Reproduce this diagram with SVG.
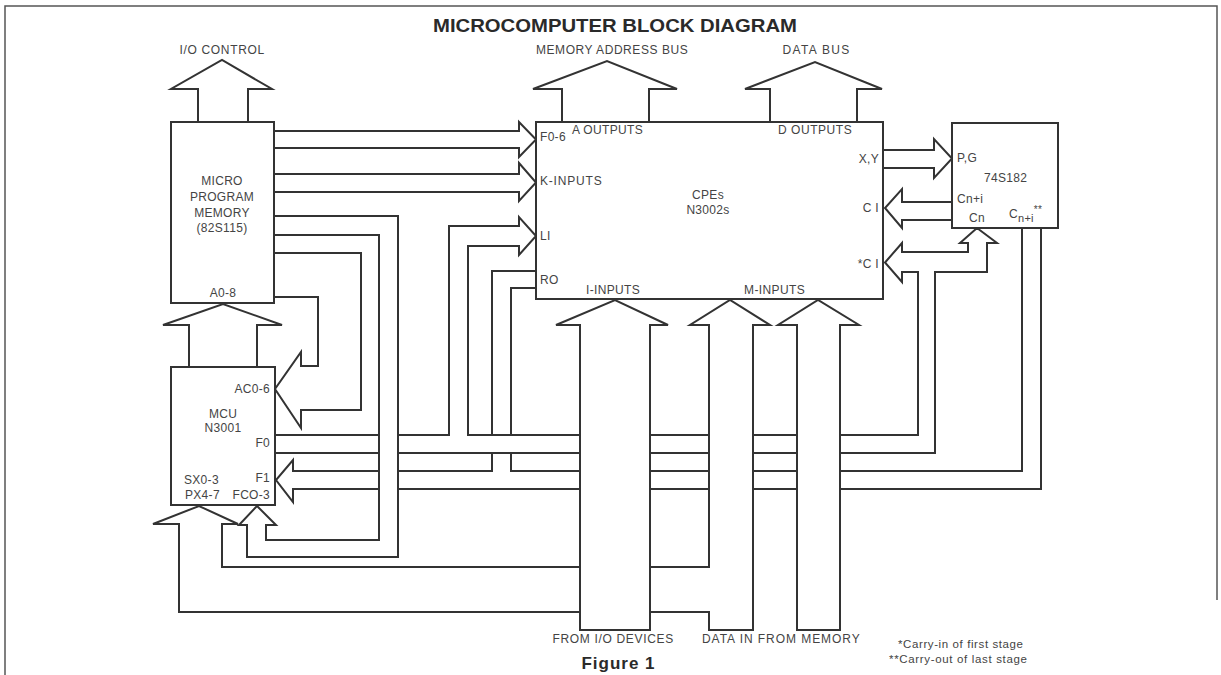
<svg xmlns="http://www.w3.org/2000/svg" width="1221" height="675" viewBox="0 0 1221 675">
<style>
.w{fill:none;stroke:#333;stroke-width:2;stroke-linejoin:miter;stroke-linecap:square}
.b{fill:#fff;stroke:#333;stroke-width:2}
.t{font-family:"Liberation Sans",Arial,sans-serif;font-size:12px;fill:#444;letter-spacing:0.3px}
.m{text-anchor:middle}
.e{text-anchor:end}
.h{font-family:"Liberation Sans",Arial,sans-serif;font-weight:bold;fill:#2a2a2a}
.n{font-family:"Liberation Sans",Arial,sans-serif;font-size:11.5px;fill:#444}
</style>
<rect width="1221" height="675" fill="#fff"/>
<path d="M5,675 V6 H1217 V600" fill="none" stroke="#555" stroke-width="1.5"/>
<text class="h m" x="615" y="32" font-size="19" textLength="364" lengthAdjust="spacingAndGlyphs">MICROCOMPUTER BLOCK DIAGRAM</text>

<g id="connectors">
  <!-- top buses -->
  <path class="b" d="M198,122 V89 H171 L222,60 L272,89 H248 V122"/>
  <path class="b" d="M562,122 V89 H533 L607,61 L677,89 H649 V122"/>
  <path class="b" d="M770,122 V89 H745 L815,62 L882,89 H857 V122"/>
  <!-- A0-8 -->
  <path class="b" d="M189,367 V325 H163 L223,304 L282,325 H257 V367"/>
  <!-- F0-6 and K inputs -->
  <path class="w" d="M274,131 H519 V122 L536,139.5 L519,157 V148 H274"/>
  <path class="w" d="M274,174 H519 V163 L536,182.5 L519,201 V192 H274"/>
  <!-- AC0-6 loop -->
  <path class="w" d="M274,253 H361 V410 H301 V428 L275,389 L301,352 V366 H318 V297 H274"/>
  <!-- FCO-3 feedback -->
  <path class="w" d="M274,216 H398 V557 H247 V525 H239 L257,506 L276,525 H266 V540 H379 V235 H274"/>
  <!-- F0 bus to LI, *CI, Cn -->
  <path class="w" d="M275,435 H379"/>
  <path class="w" d="M398,435 H449 V226 H519 V217 L536,236 L519,255 V246 H468 V435 H580"/>
  <path class="w" d="M650,435 H709"/>
  <path class="w" d="M753,435 H797"/>
  <path class="w" d="M840,435 H918 V272 H902 V282 L885,262.5 L902,243 V252 H968 V243 H960 L977,228 L997,243 H987 V272 H935 V453 H840"/>
  <path class="w" d="M797,453 H753"/>
  <path class="w" d="M709,453 H650"/>
  <path class="w" d="M580,453 H398"/>
  <path class="w" d="M379,453 H275"/>
  <!-- RO / Cn+i** to F1 -->
  <path class="w" d="M536,271 H492 V435"/>
  <path class="w" d="M492,453 V471 H398"/>
  <path class="w" d="M379,471 H293 V460 L276,480 L293,502 V489 H379"/>
  <path class="w" d="M398,489 H580"/>
  <path class="w" d="M650,489 H709"/>
  <path class="w" d="M753,489 H797"/>
  <path class="w" d="M840,489 H1041 V228"/>
  <path class="w" d="M1022,228 V471 H840"/>
  <path class="w" d="M797,471 H753"/>
  <path class="w" d="M709,471 H650"/>
  <path class="w" d="M580,471 H511 V453"/>
  <path class="w" d="M511,435 V288 H536"/>
  <!-- CI and P,G -->
  <path class="w" d="M952,202 H902 V189 L885,208 L902,228 V220 H952"/>
  <path class="w" d="M883,150 H934 V139 L952,158.5 L934,178 V168 H883"/>
  <!-- M-inputs bus feeding SX0-3/PX4-7 -->
  <path class="w" d="M650,567 H709 V325 H690 L730,300 L770,325 H753 V630 H709 V612 H650"/>
  <path class="w" d="M580,612 H179 V524 H153 L199,506 L238,524 H222 V567 H580"/>
  <!-- I-inputs and M-inputs buses -->
  <path class="w" d="M580,630 V325 H556 L615,300 L668,325 H650 V630 Z"/>
  <path class="w" d="M797,630 V325 H778 L818,300 L859,325 H840 V630 Z"/>
</g>

<g id="node-mpm">
  <rect class="b" x="171" y="122" width="103" height="181"/>
  <text class="t m" x="222" y="185">MICRO</text>
  <text class="t m" x="222" y="201">PROGRAM</text>
  <text class="t m" x="222" y="217">MEMORY</text>
  <text class="t m" x="222" y="232">(82S115)</text>
  <text class="t m" x="223" y="297">A0-8</text>
</g>

<g id="node-mcu">
  <rect class="b" x="171" y="367" width="104" height="138"/>
  <text class="t m" x="223" y="418">MCU</text>
  <text class="t m" x="223" y="432">N3001</text>
  <text class="t e" x="270" y="393">AC0-6</text>
  <text class="t e" x="270" y="447">F0</text>
  <text class="t e" x="270" y="482">F1</text>
  <text class="t" x="184" y="484">SX0-3</text>
  <text class="t" x="185" y="499">PX4-7</text>
  <text class="t e" x="270" y="499">FCO-3</text>
</g>

<g id="node-cpe">
  <rect class="b" x="536" y="122" width="347" height="177"/>
  <text class="t" x="572" y="134" textLength="71">A OUTPUTS</text>
  <text class="t" x="778" y="134" textLength="74">D OUTPUTS</text>
  <text class="t" x="540" y="141">F0-6</text>
  <text class="t" x="540" y="185" textLength="62">K-INPUTS</text>
  <text class="t m" x="708" y="199">CPEs</text>
  <text class="t m" x="708" y="214">N3002s</text>
  <text class="t" x="540" y="240">LI</text>
  <text class="t" x="540" y="284">RO</text>
  <text class="t" x="586" y="294" textLength="54">I-INPUTS</text>
  <text class="t" x="744" y="294" textLength="61">M-INPUTS</text>
  <text class="t e" x="879" y="163">X,Y</text>
  <text class="t e" x="879" y="212">C I</text>
  <text class="t e" x="879" y="268">*C I</text>
</g>

<g id="node-74s182">
  <rect class="b" x="952" y="123" width="106" height="105"/>
  <text class="t" x="957" y="162">P,G</text>
  <text class="t" x="984" y="182">74S182</text>
  <text class="t" x="957" y="203">Cn+i</text>
  <text class="t" x="969" y="222">Cn</text>
  <text class="t" x="1009" y="218">C<tspan font-size="11" dy="4">n+i</tspan><tspan font-size="10" dy="-9">**</tspan></text>
</g>

<g id="labels">
  <text class="t m" x="222" y="54" textLength="85">I/O CONTROL</text>
  <text class="t m" x="612" y="54" textLength="152">MEMORY ADDRESS BUS</text>
  <text class="t m" x="816" y="54" textLength="67">DATA BUS</text>
  <text class="t m" x="613" y="643" textLength="121">FROM I/O DEVICES</text>
  <text class="t m" x="781" y="643" textLength="158">DATA IN FROM MEMORY</text>
  <text class="h m" x="618" y="669" font-size="17" textLength="73">Figure 1</text>
  <text class="n" x="898" y="648" textLength="125">*Carry-in of first stage</text>
  <text class="n" x="889" y="663" textLength="138">**Carry-out of last stage</text>
</g>
</svg>
